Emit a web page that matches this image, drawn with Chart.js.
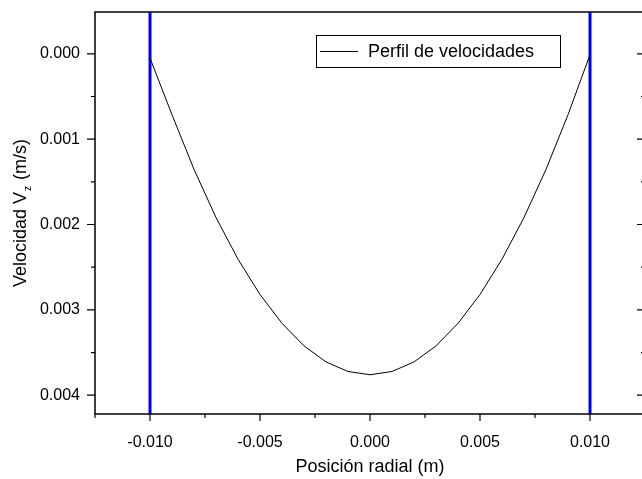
<!DOCTYPE html>
<html>
<head>
<meta charset="utf-8">
<script src="https://cdn.jsdelivr.net/npm/chart.js@4.4.1/dist/chart.umd.min.js"></script>
<style>
  html, body { margin: 0; padding: 0; background: #fff; overflow: hidden; }
  #wrap { width: 648px; height: 479px; }
</style>
</head>
<body>
<div id="wrap"><canvas id="c" width="648" height="479"></canvas></div>
<script>
// ---- data ----
const radialPositions = [-0.010, -0.009, -0.008, -0.007, -0.006, -0.005, -0.004, -0.003, -0.002, -0.001,
                          0.000, 0.001, 0.002, 0.003, 0.004, 0.005, 0.006, 0.007, 0.008, 0.009, 0.010];
const velocities = [0.00005, 0.000714, 0.001354, 0.001918, 0.002406, 0.00282, 0.003158, 0.003422, 0.00361, 0.003722,
                    0.00376, 0.003722, 0.00361, 0.003422, 0.003158, 0.00282, 0.002406, 0.001918, 0.001354, 0.000714, 0.00001];
const wallPositions = [-0.010, 0.010];
const xRange = [-0.0125, 0.0125];
const yRange = [-0.00049, 0.00422];
const xTickLabels = [-0.010, -0.005, 0.000, 0.005, 0.010];
const xMinorTicks = [-0.0125, -0.0075, -0.0025, 0.0025, 0.0075, 0.0125];
const yTickLabels = [0.000, 0.001, 0.002, 0.003, 0.004];
const yMinorTicks = [0.0005, 0.0015, 0.0025, 0.0035];
const seriesName = 'Perfil de velocidades';
const xTitle = 'Posición radial (m)';

const FONT = '"Liberation Sans", Arial, sans-serif';

const profileData = radialPositions.map((x, i) => ({ x: x, y: velocities[i] }));
const wallDatasets = wallPositions.map(w => ({
  label: 'wall',
  data: [{ x: w, y: yRange[0] }, { x: w, y: yRange[1] }],
  borderColor: '#0000ff',
  borderWidth: 3,
  pointRadius: 0,
  showLine: true,
  fill: false
}));

const framePlugin = {
  id: 'frame',
  afterDraw(chart) {
    const ctx = chart.ctx;
    const a = chart.chartArea;
    const xs = chart.scales.x, ys = chart.scales.y;
    ctx.save();
    ctx.strokeStyle = '#000';
    ctx.lineWidth = 1.5;
    ctx.beginPath();
    ctx.rect(a.left, a.top, a.right - a.left, a.bottom - a.top);
    ctx.stroke();
    ctx.lineWidth = 1.2;
    ctx.beginPath();
    yTickLabels.forEach(v => { const y = ys.getPixelForValue(v); ctx.moveTo(a.left - 8, y); ctx.lineTo(a.left, y); });
    yMinorTicks.forEach(v => { const y = ys.getPixelForValue(v); ctx.moveTo(a.left - 4, y); ctx.lineTo(a.left, y); });
    yTickLabels.forEach(v => { const y = ys.getPixelForValue(v); ctx.moveTo(a.right - 8, y); ctx.lineTo(a.right, y); });
    yMinorTicks.forEach(v => { const y = ys.getPixelForValue(v); ctx.moveTo(a.right - 4, y); ctx.lineTo(a.right, y); });
    xTickLabels.forEach(v => { const x = xs.getPixelForValue(v); ctx.moveTo(x, a.bottom); ctx.lineTo(x, a.bottom + 7); });
    xMinorTicks.forEach(v => { const x = xs.getPixelForValue(v); ctx.moveTo(x, a.bottom); ctx.lineTo(x, a.bottom + 4); });
    ctx.stroke();

    ctx.fillStyle = '#000';
    ctx.font = '18px ' + FONT;
    ctx.textAlign = 'center';
    ctx.textBaseline = 'middle';
    ctx.fillText(xTitle, (a.left + a.right) / 2, 467);

    ctx.save();
    ctx.translate(21, (a.top + a.bottom) / 2);
    ctx.rotate(-Math.PI / 2);
    const p1 = 'Velocidad V', p2 = 'z', p3 = ' (m/s)';
    ctx.font = '18px ' + FONT;
    const w1 = ctx.measureText(p1).width, w3 = ctx.measureText(p3).width;
    ctx.font = '10px ' + FONT;
    const w2 = ctx.measureText(p2).width + 2;
    const total = w1 + w2 + w3;
    let x0 = -total / 2;
    ctx.textAlign = 'left';
    ctx.textBaseline = 'middle';
    ctx.font = '18px ' + FONT;
    ctx.fillText(p1, x0, 0);
    ctx.font = '10px ' + FONT;
    ctx.fillText(p2, x0 + w1 + 1, 7);
    ctx.font = '18px ' + FONT;
    ctx.fillText(p3, x0 + w1 + w2, 0);
    ctx.restore();

    const lx = 316, ly = 35, lw = 244, lh = 32;
    ctx.fillStyle = '#fff';
    ctx.fillRect(lx, ly, lw, lh);
    ctx.strokeStyle = '#000';
    ctx.lineWidth = 1;
    ctx.strokeRect(lx + 0.5, ly + 0.5, lw, lh);
    ctx.beginPath();
    ctx.moveTo(lx + 4, ly + lh / 2 + 0.5);
    ctx.lineTo(lx + 42, ly + lh / 2 + 0.5);
    ctx.stroke();
    ctx.fillStyle = '#000';
    ctx.font = '18px ' + FONT;
    ctx.textAlign = 'left';
    ctx.textBaseline = 'middle';
    ctx.fillText(seriesName, lx + 52, ly + lh / 2 + 1);
    ctx.restore();
  }
};

new Chart(document.getElementById('c'), {
  type: 'scatter',
  data: {
    datasets: [{
      label: seriesName,
      data: profileData,
      borderColor: '#000',
      borderWidth: 1,
      pointRadius: 0,
      showLine: true,
      fill: false,
      tension: 0
    }].concat(wallDatasets)
  },
  options: {
    responsive: false,
    animation: false,
    devicePixelRatio: 1,
    layout: { padding: { left: 0, top: 12, right: 3, bottom: 0 } },
    plugins: { legend: { display: false }, tooltip: { enabled: false } },
    scales: {
      x: {
        type: 'linear',
        min: xRange[0], max: xRange[1],
        grid: { display: false, drawTicks: false },
        border: { display: false },
        afterBuildTicks: s => { s.ticks = xTickLabels.map(v => ({ value: v })); },
        afterFit: s => { s.height = 65; s.paddingLeft = 0; s.paddingRight = 0; },
        ticks: {
          padding: 19,
          color: '#000',
          font: { family: FONT, size: 16 },
          maxRotation: 0,
          callback: v => Number(v).toFixed(3)
        }
      },
      y: {
        type: 'linear',
        reverse: true,
        min: yRange[0], max: yRange[1],
        grid: { display: false, drawTicks: false },
        border: { display: false },
        afterBuildTicks: s => { s.ticks = yTickLabels.map(v => ({ value: v })); },
        afterFit: s => { s.width = 95; s.paddingTop = 0; s.paddingBottom = 0; },
        ticks: {
          padding: 15,
          color: '#000',
          font: { family: FONT, size: 16 },
          callback: v => Number(v).toFixed(3)
        }
      }
    }
  },
  plugins: [framePlugin]
});
</script>
</body>
</html>
